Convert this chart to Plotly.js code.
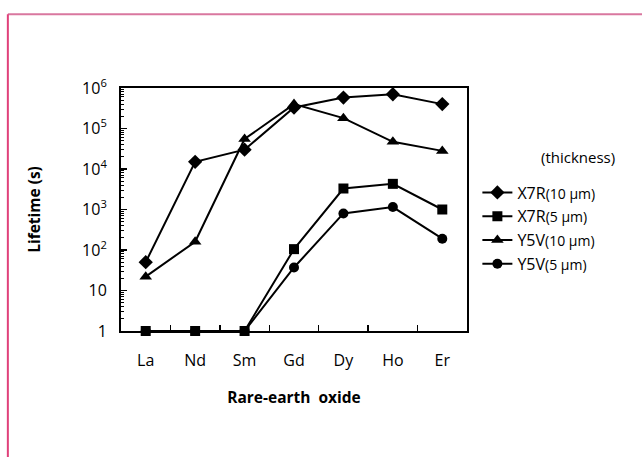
<!DOCTYPE html>
<html>
<head>
<meta charset="utf-8">
<script src="https://cdn.plot.ly/plotly-3.0.1.min.js"></script>
<style>html,body{margin:0;padding:0;background:#fff;}#chart{width:642px;height:457px;}</style>
</head>
<body>
<div id="chart"></div>
<script>
const categories = ["La", "Nd", "Sm", "Gd", "Dy", "Ho", "Er"];
const x7r10 = [50, 15000, 30000, 330000, 580000, 700000, 400000];
const x7r5 = [1, 1, 1, 105, 3300, 4300, 1000];
const y5v10 = [22, 160, 55000, 400000, 180000, 47000, 28000];
const y5v5 = [1, 1, 1, 37, 800, 1150, 190];
const yTickVals = [1, 10, 100, 1000, 10000, 100000, 1000000];
const yTickText = ["1", "10", "10<sup>2</sup>", "10<sup>3</sup>", "10<sup>4</sup>", "10<sup>5</sup>", "10<sup>6</sup>"];
const names = [
  'X7R<span style="font-size:14px">(10 μm)</span>',
  'X7R<span style="font-size:14px">(5 μm)</span>',
  'Y5V<span style="font-size:14px">(10 μm)</span>',
  'Y5V<span style="font-size:14px">(5 μm)</span>'
];

const FONT = '"Open Sans", "Noto Sans", sans-serif';
const base = {x: categories, mode: 'lines+markers', cliponaxis: false,
  line: {color: '#000', width: 2}};

const traces = [
  Object.assign({}, base, {y: x7r10, name: names[0], legendrank: 1,
    marker: {symbol: 'diamond', size: 11, color: '#000'}}),
  Object.assign({}, base, {y: y5v10, name: names[2], legendrank: 3,
    marker: {symbol: 'triangle-up', size: 11, color: '#000'}}),
  Object.assign({}, base, {y: y5v5, name: names[3], legendrank: 4,
    marker: {symbol: 'circle', size: 10, color: '#000'}}),
  Object.assign({}, base, {y: x7r5, name: names[1], legendrank: 2,
    marker: {symbol: 'square', size: 10, color: '#000'}})
];

const layout = {
  width: 642, height: 457,
  margin: {l: 121, r: 175, t: 88, b: 126},
  paper_bgcolor: '#fff', plot_bgcolor: '#fff',
  font: {family: FONT, color: '#000', size: 16},
  showlegend: true,
  legend: {x: 1.03, xanchor: 'left', y: 0.64, yanchor: 'top',
    font: {family: FONT, size: 16, color: '#000'}, itemwidth: 30,
    traceorder: 'normal', bgcolor: 'rgba(0,0,0,0)'},
  xaxis: {
    type: 'category', range: [-0.5, 6.5],
    showline: true, mirror: true, linecolor: '#000', linewidth: 2,
    ticks: 'inside', tickson: 'boundaries', ticklen: 6, tickwidth: 1.5, tickcolor: '#000',
    showgrid: false, zeroline: false, ticklabelstandoff: 14,
    tickfont: {family: FONT, size: 16},
    title: {text: '<b>Rare-earth  oxide</b>', font: {family: FONT, size: 15.5}, standoff: 22}
  },
  yaxis: {
    type: 'log', range: [0, 6],
    showline: true, mirror: true, linecolor: '#000', linewidth: 2,
    ticks: 'inside', ticklen: 6, tickwidth: 1.5, tickcolor: '#000',
    tickvals: yTickVals, ticktext: yTickText,
    minor: {ticks: 'inside', ticklen: 3, tickwidth: 1, tickcolor: '#000', dtick: 'D1', showgrid: false},
    showgrid: false, zeroline: false, ticklabelstandoff: 9,
    tickfont: {family: FONT, size: 16},
    title: {text: '<b>Lifetime (s)</b>', font: {family: FONT, size: 15.5}, standoff: 38}
  },
  annotations: [
    {xref: 'paper', yref: 'paper', x: 1.434, y: 0.716, xanchor: 'right', yanchor: 'middle',
     text: '(thickness)', showarrow: false, font: {family: FONT, size: 15, color: '#000'}}
  ],
  shapes: [
    {type: 'line', xref: 'paper', yref: 'paper', x0: -0.327, x1: 1.6, y0: 1.304, y1: 1.304,
     line: {color: '#d9779f', width: 2}},
    {type: 'line', xref: 'paper', yref: 'paper', x0: -0.327, x1: -0.327, y0: 1.304, y1: -0.6,
     line: {color: '#e0417a', width: 2}}
  ]
};

Plotly.newPlot('chart', traces, layout, {displayModeBar: false, staticPlot: true});
</script>
</body>
</html>
